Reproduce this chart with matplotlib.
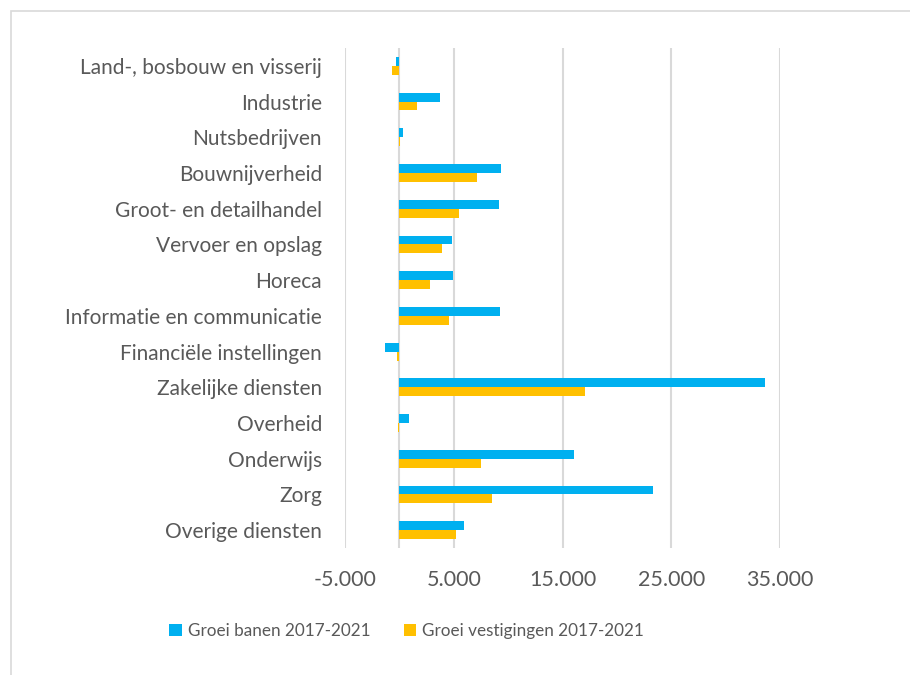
# Import libraries
import numpy as np
import matplotlib.pyplot as plt
from matplotlib.patches import Rectangle
from matplotlib.ticker import FuncFormatter

plt.rcParams['font.family'] = ['Lato', 'DejaVu Sans']

# Data
sectors = [
    'Land-, bosbouw en visserij', 'Industrie', 'Nutsbedrijven', 'Bouwnijverheid',
    'Groot- en detailhandel', 'Vervoer en opslag', 'Horeca',
    'Informatie en communicatie', 'Financiële instellingen', 'Zakelijke diensten',
    'Overheid', 'Onderwijs', 'Zorg', 'Overige diensten',
]
groei_banen = [-300, 3700, 300, 9350, 9150, 4850, 4950,
               9250, -1350, 33600, 900, 16050, 23300, 5900]
groei_vestigingen = [-700, 1600, 50, 7100, 5450, 3900, 2800,
                     4600, -250, 17100, -150, 7550, 8500, 5200]
series_names = ['Groei banen 2017-2021', 'Groei vestigingen 2017-2021']
xtick_values = [-5000, 5000, 15000, 25000, 35000]

blue = '#00B0F0'
orange = '#FFC000'
text_col = '#595959'
grid_col = '#D9D9D9'

fig = plt.figure(figsize=(9.1, 6.75), dpi=100)
ax = fig.add_axes([345 / 910, 1 - 548 / 675, 435 / 910, 500 / 675])

# chart border (only top and left edge visible in the original)
fig.patches.append(Rectangle((11 / 910, -0.05), 1.2, 1 - 11 / 675 + 0.05,
                             transform=fig.transFigure, fill=False,
                             edgecolor='#D9D9D9', linewidth=1.2))

y = np.arange(len(sectors))
h = 0.25
ax.barh(y - h / 2, groei_banen, height=h, color=blue, label=series_names[0], zorder=3)
ax.barh(y + h / 2, groei_vestigingen, height=h, color=orange, label=series_names[1], zorder=3)

ax.set_xlim(-5000, 35000)
ax.set_ylim(len(sectors) - 0.5, -0.5)
ax.set_xticks(xtick_values)
ax.xaxis.set_major_formatter(FuncFormatter(lambda v, p: f'{v:,.0f}'.replace(',', '.')))
ax.set_yticks(y)
ax.set_yticklabels(sectors)

for v in xtick_values:
    ax.axvline(v, color=grid_col, linewidth=1.5, zorder=1)
ax.axvline(0, color=grid_col, linewidth=1.5, zorder=1)

for s in ax.spines.values():
    s.set_visible(False)
ax.tick_params(axis='both', length=0, colors=text_col)
ax.tick_params(axis='y', pad=16.5, labelsize=15)
ax.tick_params(axis='x', pad=16, labelsize=15.5)

leg = fig.legend(loc='center', bbox_to_anchor=(406.5 / 910, 1 - 631 / 675), ncol=2,
                 frameon=False, fontsize=12.3, handlelength=0.75, handleheight=0.75,
                 handletextpad=0.35, columnspacing=1.95)
for t in leg.get_texts():
    t.set_color(text_col)

fig.savefig('out.png', dpi=100)
